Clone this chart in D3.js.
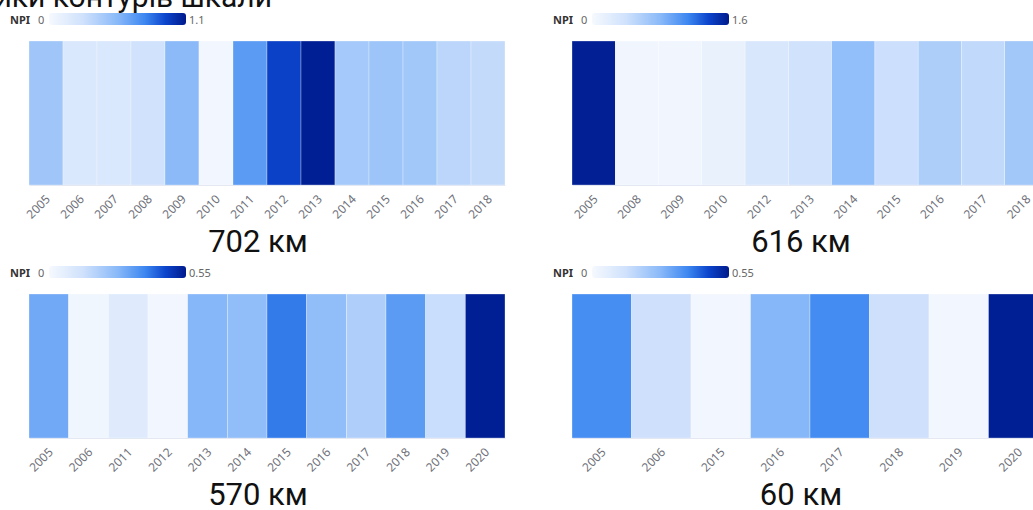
<!DOCTYPE html>
<html><head><meta charset="utf-8">
<script src="https://cdn.jsdelivr.net/npm/d3@7"></script>
<style>body{margin:0;background:#fff}svg{display:block}</style>
</head><body><svg id="c" width="1033" height="510"></svg>
<script>
// ---- data ----
const heading = "Показники контурів шкали";
const years702 = ["2005","2006","2007","2008","2009","2010","2011","2012","2013","2014","2015","2016","2017","2018"];
const npi702   = [0.46,0.20,0.20,0.26,0.54,0.03,0.68,0.95,1.08,0.44,0.47,0.45,0.35,0.32];
const years616 = ["2005","2008","2009","2010","2012","2013","2014","2015","2016","2017","2018"];
const npi616   = [1.57,0.05,0.06,0.13,0.30,0.38,0.75,0.42,0.59,0.48,0.66];
const years570 = ["2005","2006","2011","2012","2013","2014","2015","2016","2017","2018","2019","2020"];
const npi570   = [0.31,0.02,0.08,0.015,0.28,0.26,0.40,0.26,0.20,0.34,0.15,0.54];
const years60  = ["2005","2006","2015","2016","2017","2018","2019","2020"];
const npi60    = [0.37,0.14,0.015,0.28,0.375,0.14,0.015,0.54];
const titles   = ["702 км","616 км","570 км","60 км"];
const maxNPI   = [1.1,1.6,0.55,0.55];
const maxLabels = ["1.1","1.6","0.55","0.55"];

const panels = [
  {years: years702, vals: npi702},
  {years: years616, vals: npi616},
  {years: years570, vals: npi570},
  {years: years60,  vals: npi60}
].map((p,i)=>Object.assign(p,{title:titles[i],max:maxNPI[i],maxLabel:maxLabels[i]}));

const stopT = [0,0.25,0.5,0.7,0.85,1];
const stopC = ["#f6f9fe","#cfe1fc","#89b9f8","#3d87f1","#0c45cc","#001a8c"];

const svg = d3.select("#c");
const font = "'Noto Sans', Inter, sans-serif";

svg.append("text").attr("x",272).attr("y",7).attr("text-anchor","end")
  .attr("font-family","Roboto, sans-serif").attr("font-size",30).attr("fill","#111").text(heading);

const defs = svg.append("defs");
const grad = defs.append("linearGradient").attr("id","g").attr("x1","0%").attr("x2","100%");
stopT.forEach((t,i)=>grad.append("stop").attr("offset",(t*100)+"%").attr("stop-color",stopC[i]));

const offsets = [[0,0],[543,0],[0,253],[543,253]];

panels.forEach((p,i)=>{
  const [dx,dy] = offsets[i];
  const g = svg.append("g").attr("transform",`translate(${dx},${dy})`);
  const x = d3.scaleBand().domain(p.years).range([29,505]).padding(0);
  const y = d3.scaleBand().domain(["NPI"]).range([41,185]);
  const color = d3.scaleLinear().domain(stopT.map(t=>t*p.max)).range(stopC).interpolate(d3.interpolateRgb).clamp(true);

  // legend
  g.append("text").attr("x",10).attr("y",24).attr("font-family",font).attr("font-size",11)
    .attr("font-weight","bold").attr("fill","#333").text("NPI");
  g.append("text").attr("x",38).attr("y",24).attr("font-family",font).attr("font-size",11)
    .attr("fill","#666").text("0");
  g.append("rect").attr("x",49).attr("y",13).attr("width",137).attr("height",12).attr("rx",3)
    .attr("fill","url(#g)");
  g.append("text").attr("x",189).attr("y",24).attr("font-family",font).attr("font-size",11)
    .attr("fill","#666").text(p.maxLabel);

  // cells
  g.selectAll("rect.cell").data(p.years.map((yr,j)=>({yr,v:p.vals[j]}))).join("rect")
    .attr("class","cell")
    .attr("x",d=>x(d.yr)).attr("y",y("NPI"))
    .attr("width",x.bandwidth()).attr("height",y.bandwidth())
    .attr("fill",d=>color(d.v))
    .attr("stroke","#fff").attr("stroke-width",0.5).attr("stroke-opacity",0.6);

  // axis
  const ax = g.append("g").attr("transform",`translate(0,185)`)
    .call(d3.axisBottom(x).tickSize(0).tickPadding(0));
  ax.select(".domain").attr("stroke","#e3e8f2");
  ax.selectAll("text")
    .attr("font-family",font).attr("font-size",12).attr("fill","#6e7079")
    .attr("text-anchor","end").attr("dy","0.35em")
    .attr("transform","translate(2,12) rotate(-45)")
    .attr("x",0).attr("y",0);

  // title
  g.append("text").attr("x",258).attr("y",252).attr("text-anchor","middle")
    .attr("font-family","Roboto, sans-serif").attr("font-size",31).attr("fill","#111").text(p.title);
});
</script></body></html>
